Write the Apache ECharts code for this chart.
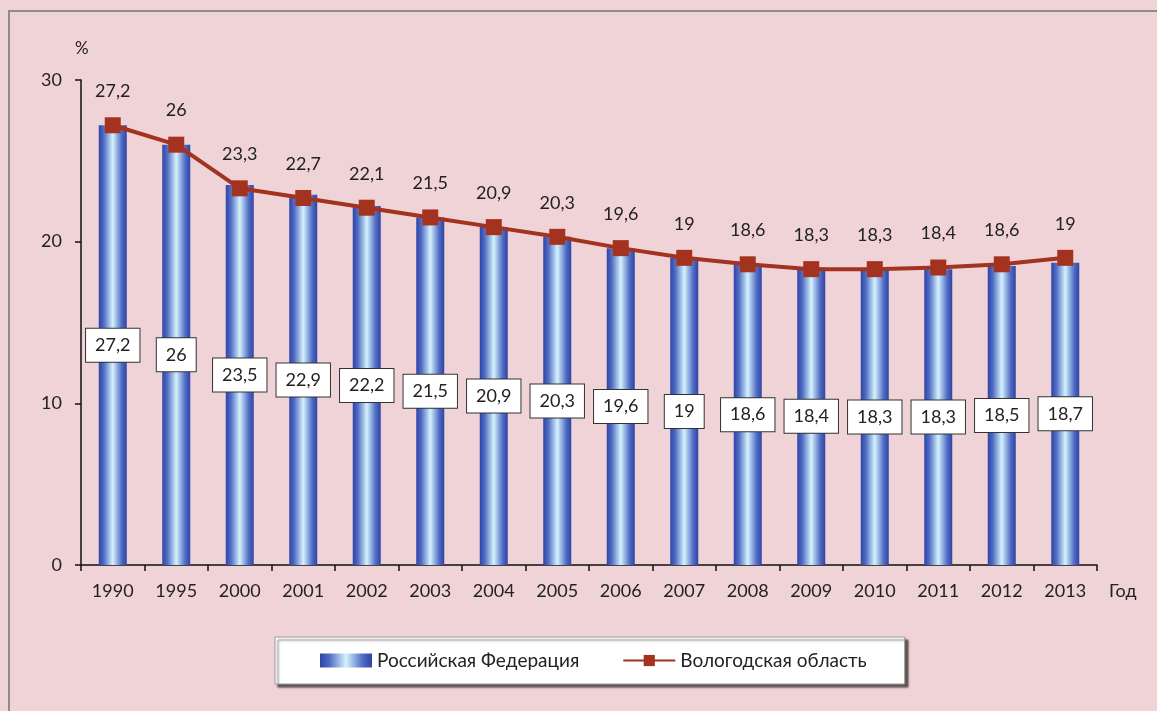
<!DOCTYPE html>
<html>
<head>
<meta charset="utf-8">
<script src="https://cdn.jsdelivr.net/npm/echarts@6/dist/echarts.min.js"></script>
<style>
  html, body { margin: 0; padding: 0; background: #efd3d7; }
  #chart { width: 1157px; height: 711px; }
</style>
</head>
<body>
<div id="chart"></div>
<script>
// годы
const years = ['1990', '1995', '2000', '2001', '2002', '2003', '2004', '2005', '2006', '2007', '2008', '2009', '2010', '2011', '2012', '2013']
// Российская Федерация, %
const rfValues = [27.2, 26, 23.5, 22.9, 22.2, 21.5, 20.9, 20.3, 19.6, 19, 18.6, 18.4, 18.3, 18.3, 18.5, 18.7]
// Вологодская область, %
const vologdaValues = [27.2, 26, 23.3, 22.7, 22.1, 21.5, 20.9, 20.3, 19.6, 19, 18.6, 18.3, 18.3, 18.4, 18.6, 19]
const yTicks = [0, 10, 20, 30]

const font = 'Lato, "Open Sans", sans-serif'
const comma = (p) => String(p.value).replace('.', ',')

const chart = echarts.init(document.getElementById('chart'))

const barGradient = new echarts.graphic.LinearGradient(0, 0, 1, 0, [
  {offset: 0, color: '#3043a6'},
  {offset: 0.18, color: '#4f6cc4'},
  {offset: 0.5, color: '#d4f2fd'},
  {offset: 0.82, color: '#4f6cc4'},
  {offset: 1, color: '#3043a6'}
])

const option = {
  backgroundColor: '#efd3d7',
  animation: false,
  textStyle: {fontFamily: font},
  graphic: [
    {
      type: 'rect',
      shape: {x: 9, y: 11, width: 1170, height: 720},
      style: {fill: 'none', stroke: '#8c8c8c', lineWidth: 2},
      silent: true,
      z: -1
    },
    {
      type: 'text', left: 75, top: 40,
      style: {text: '%', fontSize: 17, fill: '#222', fontFamily: font}
    },
    {
      type: 'text', left: 1109, top: 582,
      style: {text: 'Год', fontSize: 18, fill: '#222', fontFamily: font}
    }
  ],
  grid: {left: 81, right: 60, top: 80, bottom: 146, containLabel: false},
  legend: {
    left: 275,
    top: 637,
    padding: [14, 38, 14, 45],
    backgroundColor: '#ffffff',
    borderColor: '#9a9a9a',
    borderWidth: 1,
    shadowColor: 'rgba(0,0,0,0.6)',
    shadowBlur: 2,
    shadowOffsetX: 3,
    shadowOffsetY: 3,
    itemWidth: 52,
    itemHeight: 14,
    itemGap: 43,
    textStyle: {fontSize: 19, color: '#222', fontFamily: font},
    data: [
      {name: 'Российская Федерация', icon: 'rect'},
      {name: 'Вологодская область'}
    ]
  },
  xAxis: {
    type: 'category',
    data: years,
    boundaryGap: true,
    axisLine: {lineStyle: {color: '#111', width: 1.5}},
    axisTick: {show: true, length: 6, lineStyle: {color: '#111', width: 1.5}},
    axisLabel: {color: '#222', fontSize: 18, margin: 17, fontFamily: font}
  },
  yAxis: {
    type: 'value',
    min: 0,
    max: 30,
    interval: 10,
    axisLine: {show: true, lineStyle: {color: '#111', width: 1.5}},
    axisTick: {show: true, length: 6, lineStyle: {color: '#111', width: 1.5}},
    splitLine: {show: false},
    axisLabel: {
      color: '#222', fontSize: 18, margin: 19, fontFamily: font,
      formatter: (v) => yTicks.includes(v) ? String(v) : ''
    }
  },
  series: [
    {
      name: 'Российская Федерация',
      type: 'bar',
      data: rfValues,
      barWidth: 28,
      itemStyle: {color: barGradient},
      label: {
        show: true,
        position: 'inside',
        formatter: comma,
        color: '#222',
        fontSize: 18,
        fontFamily: font,
        backgroundColor: '#ffffff',
        borderColor: '#333',
        borderWidth: 1,
        padding: [8, 9, 7, 9]
      },
      z: 2
    },
    {
      name: 'Вологодская область',
      type: 'line',
      data: vologdaValues,
      symbol: 'rect',
      symbolSize: 16,
      lineStyle: {color: '#a3321f', width: 4},
      itemStyle: {color: '#a3321f'},
      label: {
        show: true,
        position: 'top',
        distance: 17,
        formatter: comma,
        color: '#222',
        fontSize: 18,
        fontFamily: font
      },
      z: 3
    }
  ]
}

chart.setOption(option)
</script>
</body>
</html>
